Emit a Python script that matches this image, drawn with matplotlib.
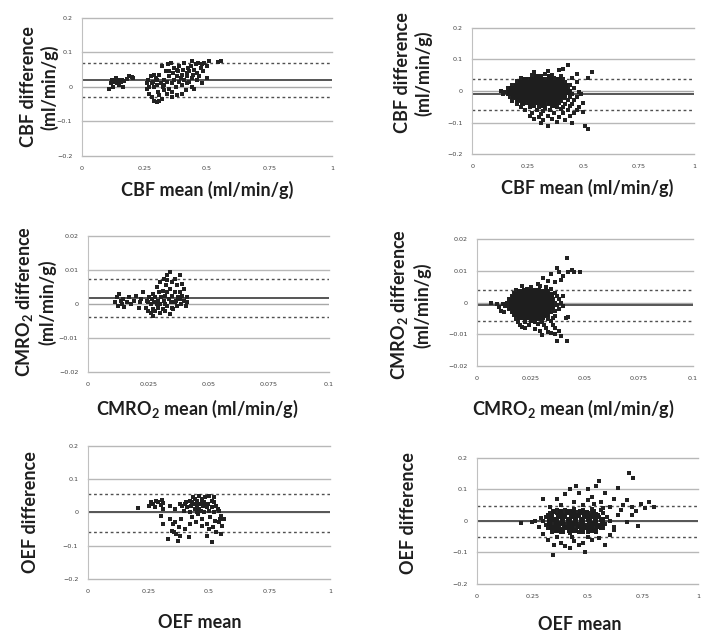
import numpy as np
import matplotlib
matplotlib.use('Agg')
import matplotlib.pyplot as plt

plt.rcParams['font.family'] = ['Lato', 'DejaVu Sans']
plt.rcParams['mathtext.fontset'] = 'custom'
plt.rcParams['mathtext.rm'] = 'Lato:bold'
plt.rcParams['mathtext.it'] = 'Lato:bold'
plt.rcParams['mathtext.bf'] = 'Lato:bold'

# ---- data ----
cbf_ticks = [0, 0.25, 0.5, 0.75, 1]
cbf_ticklabels = ['0', '0.25', '0.5', '0.75', '1']
diff_ticks = [-0.2, -0.1, 0, 0.1, 0.2]
diff_ticklabels = ['\u22120.2', '\u22120.1', '0', '0.1', '0.2']
cmro_ticks = [0, 0.025, 0.05, 0.075, 0.1]
cmro_ticklabels = ['0', '0.025', '0.05', '0.075', '0.1']
cmro_diff_ticks = [-0.02, -0.01, 0, 0.01, 0.02]
cmro_diff_ticklabels = ['\u22120.02', '\u22120.01', '0', '0.01', '0.02']

# mean, upper limit, lower limit
cbf_left_lines = [0.02, 0.07, -0.03]
cbf_right_lines = [-0.01, 0.037, -0.06]
cmro_left_lines = [0.0018, 0.0073, -0.0038]
cmro_right_lines = [-0.0007, 0.004, -0.0057]
oef_left_lines = [0.0, 0.055, -0.06]
oef_right_lines = [0.0, 0.047, -0.05]

cbf_left_pts = [
    (0.11, -0.005), (0.115, 0.01), (0.12, 0.02), (0.125, 0.0), (0.13, 0.015), (0.135, 0.025),
    (0.14, 0.01), (0.145, 0.02), (0.15, 0.005), (0.155, 0.015), (0.16, 0.02), (0.165, 0.0),
    (0.17, 0.018), (0.18, 0.022), (0.19, 0.03), (0.2, 0.028), (0.205, 0.025),
    (0.26, 0.01), (0.26, -0.005), (0.265, 0.02), (0.27, -0.02), (0.27, 0.0), (0.275, 0.03),
    (0.28, -0.03), (0.28, 0.01), (0.285, 0.015), (0.29, -0.04), (0.29, 0.0), (0.295, 0.025),
    (0.3, -0.045), (0.3, 0.005), (0.3, 0.02), (0.305, -0.015), (0.31, 0.035), (0.31, -0.025),
    (0.315, 0.01), (0.32, 0.06), (0.32, -0.035), (0.325, 0.0), (0.33, 0.02), (0.33, -0.01),
    (0.335, 0.045), (0.34, -0.02), (0.34, 0.015), (0.345, 0.065), (0.35, 0.03), (0.35, -0.005),
    (0.355, 0.07), (0.36, 0.01), (0.36, -0.015), (0.365, 0.04), (0.37, 0.02), (0.37, 0.055),
    (0.375, 0.0), (0.38, 0.03), (0.38, -0.025), (0.385, 0.045), (0.39, 0.015), (0.39, 0.06),
    (0.395, 0.025), (0.4, 0.035), (0.4, 0.005), (0.405, 0.05), (0.41, 0.02), (0.41, 0.07),
    (0.415, -0.01), (0.42, 0.04), (0.42, 0.03), (0.425, 0.055), (0.43, 0.015), (0.43, 0.045),
    (0.435, 0.06), (0.44, 0.025), (0.44, 0.075), (0.445, 0.035), (0.45, 0.05), (0.45, -0.005),
    (0.455, 0.065), (0.46, 0.04), (0.46, 0.02), (0.465, 0.07), (0.47, 0.03), (0.475, 0.055),
    (0.48, 0.01), (0.485, 0.045), (0.49, 0.07), (0.5, 0.06), (0.51, 0.075), (0.48, 0.065),
    (0.35, 0.045), (0.33, 0.005), (0.29, 0.035), (0.31, -0.04), (0.36, -0.03), (0.4, -0.02),
    (0.42, 0.01), (0.38, 0.05), (0.44, 0.0), (0.545, 0.072), (0.555, 0.075), (0.5, 0.025),
]

cbf_right_pts = [
    (0.27, 0.052), (0.31, 0.048), (0.36, 0.05), (0.40, 0.046), (0.33, 0.055),
    (0.22, 0.041), (0.26, 0.038), (0.29, 0.043), (0.33, 0.039), (0.37, 0.042), (0.41, 0.037), (0.45, 0.04),
    (0.20, 0.031), (0.23, 0.028), (0.25, 0.033), (0.28, 0.029), (0.30, 0.032), (0.32, 0.027),
    (0.34, 0.031), (0.36, 0.029), (0.38, 0.033), (0.42, 0.03), (0.47, 0.028),
    (0.18, 0.02), (0.21, 0.022), (0.24, 0.018), (0.26, 0.021), (0.28, 0.019), (0.30, 0.023),
    (0.31, 0.017), (0.33, 0.02), (0.35, 0.022), (0.37, 0.018), (0.39, 0.021), (0.41, 0.019), (0.44, 0.02),
    (0.16, 0.011), (0.19, 0.009), (0.21, 0.012), (0.23, 0.008), (0.25, 0.01), (0.27, 0.012),
    (0.29, 0.009), (0.30, 0.011), (0.32, 0.008), (0.34, 0.012), (0.36, 0.01), (0.38, 0.009),
    (0.40, 0.011), (0.43, 0.01), (0.46, 0.008),
    (0.13, 0.0), (0.15, -0.002), (0.17, 0.001), (0.19, -0.001), (0.21, 0.002), (0.23, 0.0),
    (0.25, -0.002), (0.26, 0.001), (0.28, 0.0), (0.30, -0.001), (0.31, 0.002), (0.33, 0.0),
    (0.35, -0.002), (0.37, 0.001), (0.39, 0.0), (0.41, -0.001), (0.44, 0.001), (0.48, -0.002),
    (0.14, -0.009), (0.16, -0.011), (0.18, -0.01), (0.20, -0.012), (0.22, -0.008), (0.24, -0.01),
    (0.26, -0.011), (0.27, -0.009), (0.29, -0.012), (0.30, -0.01), (0.32, -0.008), (0.34, -0.011),
    (0.36, -0.01), (0.38, -0.012), (0.40, -0.009), (0.42, -0.011), (0.45, -0.01), (0.49, -0.008),
    (0.17, -0.02), (0.19, -0.022), (0.21, -0.019), (0.23, -0.021), (0.25, -0.018), (0.27, -0.02),
    (0.28, -0.023), (0.30, -0.019), (0.32, -0.021), (0.33, -0.018), (0.35, -0.02), (0.37, -0.022),
    (0.39, -0.019), (0.42, -0.021), (0.44, -0.02), (0.47, -0.018),
    (0.18, -0.031), (0.20, -0.029), (0.22, -0.032), (0.24, -0.03), (0.26, -0.028), (0.28, -0.031),
    (0.30, -0.033), (0.31, -0.029), (0.33, -0.03), (0.35, -0.032), (0.37, -0.028), (0.40, -0.031),
    (0.43, -0.03), (0.46, -0.029),
    (0.20, -0.04), (0.23, -0.042), (0.25, -0.039), (0.27, -0.041), (0.29, -0.038), (0.31, -0.042),
    (0.34, -0.04), (0.36, -0.043), (0.39, -0.039), (0.42, -0.041), (0.45, -0.04), (0.50, -0.038),
    (0.22, -0.05), (0.26, -0.052), (0.28, -0.048), (0.30, -0.051), (0.33, -0.053), (0.36, -0.049),
    (0.38, -0.052), (0.41, -0.05), (0.44, -0.048), (0.48, -0.051),
    (0.24, -0.061), (0.29, -0.059), (0.32, -0.062), (0.35, -0.06), (0.40, -0.058), (0.43, -0.061), (0.47, -0.06),
    (0.27, -0.07), (0.31, -0.072), (0.37, -0.069), (0.41, -0.071), (0.46, -0.07), (0.50, -0.068),
    (0.26, -0.08), (0.30, -0.082), (0.34, -0.079), (0.39, -0.081), (0.44, -0.08),
    (0.28, -0.09), (0.32, -0.092), (0.36, -0.089), (0.42, -0.091),
    (0.31, -0.1), (0.38, -0.099), (0.45, -0.101), (0.34, -0.11), (0.51, -0.112), (0.52, -0.122),
    (0.43, 0.082), (0.54, 0.06), (0.41, 0.07), (0.39, 0.066), (0.28, 0.06), (0.34, 0.062),
    (0.47, 0.055), (0.52, 0.042),
]

# dense middle of the right CBF cloud
cbf_right_core = [
    (0.29, 0.045), (0.35, 0.044),
    (0.24, 0.035), (0.27, 0.036), (0.31, 0.034), (0.35, 0.035), (0.39, 0.036),
    (0.22, 0.025), (0.25, 0.024), (0.27, 0.026), (0.29, 0.025), (0.33, 0.024), (0.35, 0.026),
    (0.37, 0.025), (0.40, 0.024),
    (0.20, 0.015), (0.22, 0.014), (0.24, 0.016), (0.26, 0.015), (0.28, 0.014), (0.30, 0.016),
    (0.32, 0.015), (0.34, 0.014), (0.36, 0.016), (0.38, 0.015), (0.40, 0.014), (0.42, 0.016),
    (0.18, 0.005), (0.20, 0.004), (0.22, 0.006), (0.24, 0.005), (0.26, 0.004), (0.28, 0.006),
    (0.30, 0.005), (0.32, 0.004), (0.34, 0.006), (0.36, 0.005), (0.38, 0.004), (0.40, 0.006), (0.42, 0.005),
    (0.17, -0.005), (0.19, -0.004), (0.21, -0.006), (0.23, -0.005), (0.25, -0.004), (0.27, -0.006),
    (0.29, -0.005), (0.31, -0.004), (0.33, -0.006), (0.35, -0.005), (0.37, -0.004), (0.39, -0.006),
    (0.41, -0.005), (0.43, -0.004),
    (0.19, -0.015), (0.21, -0.014), (0.23, -0.016), (0.25, -0.015), (0.27, -0.014), (0.29, -0.016),
    (0.31, -0.015), (0.33, -0.014), (0.35, -0.016), (0.37, -0.015), (0.39, -0.014), (0.41, -0.016),
    (0.21, -0.025), (0.23, -0.024), (0.25, -0.026), (0.27, -0.025), (0.29, -0.024), (0.31, -0.026),
    (0.33, -0.025), (0.35, -0.024), (0.37, -0.026), (0.39, -0.025),
    (0.23, -0.035), (0.26, -0.036), (0.29, -0.034), (0.32, -0.035), (0.35, -0.036), (0.38, -0.034),
    (0.27, -0.045), (0.32, -0.046), (0.37, -0.044),
]

cmro_left_pts = [
    (0.011, 0.0005), (0.012, 0.002), (0.0125, -0.0005), (0.013, 0.003), (0.0135, 0.001),
    (0.014, 0.0), (0.0145, 0.0015), (0.015, -0.0008), (0.016, 0.0005), (0.017, 0.002),
    (0.018, 0.0), (0.019, 0.001), (0.02, 0.0025), (0.021, -0.001), (0.0215, 0.0005),
    (0.022, 0.0015), (0.023, 0.0035),
    (0.024, -0.001), (0.0245, 0.001), (0.025, -0.002), (0.025, 0.0005), (0.0255, 0.002),
    (0.026, -0.0025), (0.026, 0.0), (0.0265, 0.0015), (0.027, -0.0015), (0.027, 0.003),
    (0.0275, 0.0005), (0.028, -0.002), (0.028, 0.002), (0.0285, 0.005), (0.029, -0.001),
    (0.029, 0.001), (0.0295, 0.0035), (0.03, -0.0025), (0.03, 0.0), (0.03, 0.0065),
    (0.0305, 0.002), (0.031, -0.0015), (0.031, 0.004), (0.0315, 0.0075), (0.0315, 0.001),
    (0.032, -0.002), (0.032, 0.0025), (0.0325, 0.0055), (0.033, -0.0005), (0.033, 0.0035),
    (0.033, 0.0085), (0.0335, 0.0015), (0.034, -0.003), (0.034, 0.0045), (0.034, 0.0095),
    (0.0345, 0.0005), (0.035, 0.0025), (0.035, 0.0065), (0.0355, -0.0015), (0.036, 0.0035),
    (0.036, 0.0075), (0.0365, 0.001), (0.037, 0.0055), (0.037, -0.0005), (0.0375, 0.002),
    (0.038, 0.0085), (0.038, 0.0035), (0.0385, 0.0), (0.039, 0.006), (0.039, 0.0025),
    (0.04, 0.001), (0.04, 0.0045), (0.0405, -0.0005), (0.041, 0.002), (0.041, 0.0005),
    (0.036, 0.0005), (0.032, 0.0), (0.0285, 0.0), (0.027, -0.0035), (0.035, -0.001),
    (0.038, 0.0015), (0.033, 0.007),
]

cmro_right_pts = [
    (0.021, 0.0052), (0.025, 0.0049), (0.029, 0.0053), (0.032, 0.0048),
    (0.018, 0.0041), (0.020, 0.0038), (0.023, 0.0042), (0.026, 0.0039), (0.028, 0.0041),
    (0.031, 0.0037), (0.034, 0.0042),
    (0.017, 0.0031), (0.019, 0.0028), (0.021, 0.0032), (0.023, 0.0029), (0.025, 0.0031),
    (0.027, 0.0028), (0.029, 0.0032), (0.031, 0.003), (0.033, 0.0029), (0.036, 0.0031),
    (0.016, 0.002), (0.018, 0.0022), (0.020, 0.0019), (0.022, 0.0021), (0.024, 0.0018),
    (0.026, 0.0021), (0.028, 0.0019), (0.030, 0.0022), (0.032, 0.002), (0.034, 0.0018), (0.037, 0.0021),
    (0.015, 0.0011), (0.017, 0.0009), (0.019, 0.0012), (0.021, 0.001), (0.023, 0.0008),
    (0.025, 0.0011), (0.027, 0.0009), (0.029, 0.0012), (0.031, 0.001), (0.033, 0.0009),
    (0.035, 0.0011), (0.038, 0.001),
    (0.014, 0.0), (0.016, -0.0002), (0.018, 0.0001), (0.020, -0.0001), (0.022, 0.0002),
    (0.024, 0.0), (0.026, -0.0002), (0.028, 0.0001), (0.030, 0.0), (0.032, -0.0001),
    (0.034, 0.0002), (0.036, 0.0), (0.039, -0.0001),
    (0.013, -0.001), (0.015, -0.0012), (0.017, -0.0009), (0.019, -0.0011), (0.021, -0.001),
    (0.023, -0.0008), (0.025, -0.0011), (0.027, -0.001), (0.029, -0.0012), (0.031, -0.0009),
    (0.033, -0.0011), (0.035, -0.001), (0.037, -0.0009), (0.040, -0.0011),
    (0.015, -0.002), (0.017, -0.0022), (0.019, -0.0019), (0.021, -0.0021), (0.023, -0.002),
    (0.025, -0.0018), (0.027, -0.0021), (0.029, -0.002), (0.031, -0.0022), (0.033, -0.0019),
    (0.035, -0.0021), (0.038, -0.002),
    (0.016, -0.0031), (0.018, -0.0029), (0.020, -0.0032), (0.022, -0.003), (0.024, -0.0028),
    (0.026, -0.0031), (0.028, -0.003), (0.030, -0.0029), (0.032, -0.0032), (0.034, -0.003), (0.036, -0.0028),
    (0.017, -0.004), (0.019, -0.0042), (0.021, -0.0039), (0.023, -0.0041), (0.025, -0.0038),
    (0.027, -0.0041), (0.029, -0.004), (0.031, -0.0042), (0.033, -0.0039), (0.036, -0.0041),
    (0.018, -0.0051), (0.020, -0.0049), (0.022, -0.0052), (0.024, -0.005), (0.026, -0.0048),
    (0.028, -0.0051), (0.030, -0.005), (0.033, -0.0052), (0.035, -0.0049),
    (0.019, -0.006), (0.022, -0.0062), (0.025, -0.0059), (0.027, -0.0061), (0.030, -0.006), (0.034, -0.0058),
    (0.020, -0.007), (0.024, -0.0072), (0.028, -0.0069), (0.031, -0.0071), (0.035, -0.007),
    (0.022, -0.008), (0.027, -0.0082), (0.032, -0.0079), (0.036, -0.0081),
    (0.029, -0.009), (0.033, -0.0092), (0.038, -0.0089),
    (0.030, -0.0102), (0.037, -0.012), (0.0417, -0.0122), (0.034, -0.0096), (0.036, -0.0098),
    (0.021, -0.0077), (0.039, -0.0105),
    (0.0417, 0.014), (0.037, 0.011), (0.044, 0.0102), (0.038, 0.0095), (0.0306, 0.0077),
    (0.034, 0.009), (0.0475, 0.0095), (0.04, 0.0085), (0.042, 0.0095), (0.036, 0.0065),
    (0.033, 0.0068), (0.039, 0.007), (0.028, 0.006), (0.045, 0.0098),
    (0.0062, 0.0), (0.009, -0.0003), (0.01, -0.0015), (0.011, -0.0025), (0.012, -0.0005),
    (0.0125, -0.003), (0.041, -0.005), (0.042, -0.0045), (0.04, 0.002),
]

# dense middle of the right CMRO2 cloud
cmro_right_core = [
    (0.020, 0.0035), (0.022, 0.0036), (0.024, 0.0034), (0.026, 0.0035), (0.028, 0.0036),
    (0.030, 0.0034), (0.032, 0.0035),
    (0.018, 0.0025), (0.020, 0.0026), (0.022, 0.0024), (0.024, 0.0025), (0.026, 0.0026),
    (0.028, 0.0024), (0.030, 0.0025), (0.032, 0.0026), (0.034, 0.0024),
    (0.017, 0.0015), (0.019, 0.0016), (0.021, 0.0014), (0.023, 0.0015), (0.025, 0.0016),
    (0.027, 0.0014), (0.029, 0.0015), (0.031, 0.0016), (0.033, 0.0014),
    (0.016, 0.0005), (0.018, 0.0006), (0.020, 0.0004), (0.022, 0.0005), (0.024, 0.0006),
    (0.026, 0.0004), (0.028, 0.0005), (0.030, 0.0006), (0.032, 0.0004), (0.034, 0.0005),
    (0.017, -0.0005), (0.019, -0.0004), (0.021, -0.0006), (0.023, -0.0005), (0.025, -0.0004),
    (0.027, -0.0006), (0.029, -0.0005), (0.031, -0.0004), (0.033, -0.0006),
    (0.016, -0.0015), (0.018, -0.0014), (0.020, -0.0016), (0.022, -0.0015), (0.024, -0.0014),
    (0.026, -0.0016), (0.028, -0.0015), (0.030, -0.0014), (0.032, -0.0016), (0.034, -0.0015),
    (0.017, -0.0025), (0.019, -0.0024), (0.021, -0.0026), (0.023, -0.0025), (0.025, -0.0024),
    (0.027, -0.0026), (0.029, -0.0025), (0.031, -0.0024), (0.033, -0.0026),
    (0.018, -0.0035), (0.020, -0.0036), (0.022, -0.0034), (0.024, -0.0035), (0.026, -0.0036),
    (0.028, -0.0034), (0.030, -0.0035), (0.032, -0.0036),
    (0.020, -0.0045), (0.022, -0.0046), (0.024, -0.0044), (0.026, -0.0045), (0.028, -0.0046),
    (0.030, -0.0044),
]

oef_left_pts = [
    (0.207, 0.013), (0.25, 0.02), (0.26, 0.032), (0.27, 0.025), (0.275, 0.015), (0.28, 0.035),
    (0.29, 0.03), (0.3, 0.022), (0.305, 0.038), (0.31, 0.01), (0.31, 0.028), (0.3, -0.01),
    (0.31, -0.035), (0.33, -0.08), (0.34, 0.02), (0.345, -0.055), (0.35, -0.035), (0.355, -0.06),
    (0.36, -0.03), (0.365, -0.065), (0.37, -0.085), (0.375, -0.045), (0.38, 0.025), (0.385, -0.02),
    (0.39, 0.02), (0.395, 0.005), (0.4, -0.05), (0.405, 0.03), (0.41, 0.015), (0.415, -0.075),
    (0.42, 0.035), (0.42, 0.0), (0.425, 0.02), (0.43, -0.015), (0.435, 0.045), (0.44, 0.025),
    (0.44, 0.01), (0.445, -0.03), (0.45, 0.035), (0.45, 0.015), (0.455, -0.005), (0.46, 0.05),
    (0.46, 0.025), (0.465, 0.005), (0.47, 0.04), (0.47, -0.02), (0.475, 0.02), (0.48, 0.03),
    (0.48, 0.0), (0.485, 0.045), (0.49, 0.015), (0.49, -0.035), (0.495, 0.025), (0.5, 0.05),
    (0.5, 0.005), (0.505, -0.015), (0.51, 0.035), (0.51, 0.015), (0.515, -0.045), (0.52, 0.045),
    (0.52, 0.0), (0.525, -0.025), (0.53, 0.02), (0.53, -0.06), (0.535, 0.01), (0.54, -0.03),
    (0.545, -0.02), (0.55, -0.065), (0.555, -0.04), (0.51, -0.088), (0.49, -0.07), (0.5, -0.05),
    (0.47, -0.04), (0.43, 0.03), (0.44, 0.04), (0.46, 0.01), (0.47, 0.03), (0.48, 0.018),
    (0.45, 0.0), (0.42, -0.035), (0.38, -0.07), (0.34, -0.02), (0.36, 0.01), (0.4, 0.025),
    (0.55, -0.01), (0.56, -0.02), (0.54, 0.005), (0.52, 0.03),
]

oef_right_pts = [
    (0.36, 0.036), (0.40, 0.034), (0.44, 0.038), (0.48, 0.035), (0.52, 0.037), (0.56, 0.033),
    (0.33, 0.024), (0.36, 0.026), (0.39, 0.023), (0.42, 0.025), (0.45, 0.027), (0.48, 0.024),
    (0.51, 0.026), (0.54, 0.023), (0.57, 0.025),
    (0.31, 0.012), (0.34, 0.014), (0.37, 0.011), (0.40, 0.013), (0.43, 0.012), (0.46, 0.014),
    (0.49, 0.011), (0.52, 0.013), (0.55, 0.012), (0.59, 0.011),
    (0.30, 0.0), (0.33, 0.002), (0.36, -0.001), (0.39, 0.001), (0.42, 0.0), (0.45, 0.002),
    (0.48, -0.001), (0.51, 0.001), (0.54, 0.0), (0.57, -0.002), (0.60, 0.001),
    (0.31, -0.012), (0.34, -0.010), (0.37, -0.013), (0.40, -0.011), (0.43, -0.012), (0.46, -0.010),
    (0.49, -0.013), (0.52, -0.011), (0.55, -0.012), (0.58, -0.01),
    (0.32, -0.024), (0.36, -0.022), (0.39, -0.025), (0.42, -0.023), (0.45, -0.024), (0.48, -0.022),
    (0.51, -0.025), (0.54, -0.023), (0.57, -0.024),
    (0.34, -0.036), (0.38, -0.034), (0.42, -0.037), (0.46, -0.035), (0.50, -0.036), (0.54, -0.034),
    (0.36, 0.07), (0.40, 0.085), (0.42, 0.1), (0.44, 0.06), (0.46, 0.09), (0.48, 0.05),
    (0.50, 0.1), (0.52, 0.075), (0.54, 0.11), (0.56, 0.06), (0.58, 0.09), (0.60, 0.045),
    (0.62, 0.07), (0.64, 0.105), (0.66, 0.05), (0.68, 0.065), (0.70, 0.045), (0.72, 0.03),
    (0.74, 0.055), (0.76, 0.04), (0.78, 0.06), (0.80, 0.045), (0.55, 0.125), (0.69, 0.152),
    (0.705, 0.136), (0.38, 0.05), (0.45, 0.11), (0.50, 0.065), (0.53, 0.055), (0.57, 0.042),
    (0.65, 0.035), (0.70, 0.02), (0.73, -0.015), (0.68, -0.005), (0.64, 0.02), (0.62, -0.02),
    (0.30, 0.07), (0.33, 0.045),
    (0.30, -0.04), (0.32, -0.06), (0.35, -0.075), (0.38, -0.07), (0.40, -0.08), (0.42, -0.085),
    (0.44, -0.065), (0.46, -0.075), (0.48, -0.07), (0.50, -0.05), (0.52, -0.06), (0.55, -0.055),
    (0.58, -0.075), (0.60, -0.045), (0.345, -0.108), (0.49, -0.1), (0.28, -0.02), (0.26, 0.0),
    (0.20, -0.006), (0.25, -0.003), (0.29, 0.01), (0.36, -0.05), (0.43, -0.05), (0.62, -0.03),
]

# dense middle of the right OEF cloud
oef_right_core = [
    (0.38, 0.018), (0.41, 0.006), (0.44, -0.006), (0.47, -0.018), (0.50, 0.006), (0.53, -0.006),
    (0.35, 0.006), (0.38, -0.006), (0.41, -0.018), (0.44, 0.018), (0.47, 0.006), (0.50, -0.018),
    (0.53, 0.018), (0.56, 0.006), (0.35, -0.018), (0.41, 0.030), (0.47, 0.030), (0.44, -0.030),
    (0.38, -0.028), (0.50, 0.018), (0.56, -0.018), (0.32, 0.018), (0.47, -0.030), (0.53, -0.03),
    (0.345, 0.03), (0.375, 0.031), (0.405, 0.029), (0.435, 0.03), (0.465, 0.031), (0.495, 0.029), (0.525, 0.03),
    (0.335, 0.018), (0.365, 0.019), (0.395, 0.017), (0.425, 0.018), (0.455, 0.019), (0.485, 0.017),
    (0.515, 0.018), (0.545, 0.019),
    (0.325, 0.006), (0.355, 0.007), (0.385, 0.005), (0.415, 0.006), (0.445, 0.007), (0.475, 0.005),
    (0.505, 0.006), (0.535, 0.007), (0.565, 0.005),
    (0.325, -0.006), (0.355, -0.005), (0.385, -0.007), (0.415, -0.006), (0.445, -0.005),
    (0.475, -0.007), (0.505, -0.006), (0.535, -0.005), (0.565, -0.007),
    (0.335, -0.018), (0.365, -0.017), (0.395, -0.019), (0.425, -0.018), (0.455, -0.017),
    (0.485, -0.019), (0.515, -0.018), (0.545, -0.017),
    (0.355, -0.03), (0.385, -0.031), (0.415, -0.029), (0.445, -0.03), (0.475, -0.031),
    (0.505, -0.029), (0.535, -0.03),
]


def panel(ax, pts, lines, xmax, ymax, xticks, xticklabels, yticks, yticklabels, ms,
          core=None, core_ms=3.0):
    mean, up, lo = lines
    for g in [-ymax, -ymax / 2, ymax / 2, ymax]:
        ax.axhline(g, color='#b8b8b8', lw=1.0, zorder=1, clip_on=False)
    ax.axhline(0, color='#a8a8a8', lw=1.0, zorder=1)
    ax.axhline(mean, color='#555555', lw=1.4, zorder=2)
    ax.axhline(up, color='#505050', lw=1.0, ls=(0, (2, 2)), zorder=2)
    ax.axhline(lo, color='#505050', lw=1.0, ls=(0, (2, 2)), zorder=2)
    xs = [p[0] for p in pts]
    ys = [p[1] for p in pts]
    ax.plot(xs, ys, 's', color='#222222', ms=ms, mew=0, zorder=3)
    if core is not None:
        ax.plot([p[0] for p in core], [p[1] for p in core], 's', color='#1e1e1e',
                ms=core_ms, mew=0, zorder=3)
    ax.set_xlim(0, xmax)
    ax.set_ylim(-ymax, ymax)
    ax.set_xticks(xticks)
    ax.set_xticklabels(xticklabels, family='DejaVu Sans')
    ax.set_yticks(yticks)
    ax.set_yticklabels(yticklabels, family='DejaVu Sans')
    ax.tick_params(length=0, labelsize=4.6, labelcolor='#444444', pad=7)
    for s in ['top', 'right', 'bottom']:
        ax.spines[s].set_visible(False)
    ax.spines['left'].set_color('#c0c0c0')


fig = plt.figure(figsize=(7.1, 6.34), dpi=100)

ax1 = fig.add_axes([0.1155, 0.754, 0.352, 0.218])
panel(ax1, cbf_left_pts, cbf_left_lines, 1, 0.2, cbf_ticks, cbf_ticklabels,
      diff_ticks, diff_ticklabels, 2.3)
ax2 = fig.add_axes([0.665, 0.757, 0.313, 0.199])
panel(ax2, cbf_right_pts, cbf_right_lines, 1, 0.2, cbf_ticks, cbf_ticklabels,
      diff_ticks, diff_ticklabels, 2.4, core=cbf_right_core, core_ms=4.2)
ax3 = fig.add_axes([0.124, 0.413, 0.339, 0.2145])
panel(ax3, cmro_left_pts, cmro_left_lines, 0.1, 0.02, cmro_ticks, cmro_ticklabels,
      cmro_diff_ticks, cmro_diff_ticklabels, 2.3)
ax4 = fig.add_axes([0.672, 0.4227, 0.304, 0.2])
panel(ax4, cmro_right_pts, cmro_right_lines, 0.1, 0.02, cmro_ticks,
      cmro_ticklabels, cmro_diff_ticks, cmro_diff_ticklabels, 2.4,
      core=cmro_right_core, core_ms=4.2)
ax5 = fig.add_axes([0.124, 0.0868, 0.341, 0.21])
panel(ax5, oef_left_pts, oef_left_lines, 1, 0.2, cbf_ticks, cbf_ticklabels,
      diff_ticks, diff_ticklabels, 2.3)
ax6 = fig.add_axes([0.672, 0.0789, 0.311, 0.199])
panel(ax6, oef_right_pts, oef_right_lines, 1, 0.2, cbf_ticks, cbf_ticklabels,
      diff_ticks, diff_ticklabels, 2.2, core=oef_right_core, core_ms=3.6)


def ftext(x, y, s, rot=0):
    fig.text(x / 710, 1 - y / 634, s, rotation=rot, ha='center', va='center',
             fontsize=13, fontweight='bold', color='#1e1e1e', linespacing=1.2)


ftext(39, 87, 'CBF difference\n(ml/min/g)', 90)
ftext(413, 73, 'CBF difference\n(ml/min/g)', 90)
ftext(35, 302, 'CMRO$_2$ difference\n(ml/min/g)', 90)
ftext(410, 305, 'CMRO$_2$ difference\n(ml/min/g)', 90)
ftext(30, 512, 'OEF difference', 90)
ftext(408, 513, 'OEF difference', 90)

ftext(207, 190, 'CBF mean (ml/min/g)')
ftext(587, 188, 'CBF mean (ml/min/g)')
ftext(197, 409, 'CMRO$_2$ mean (ml/min/g)')
ftext(573, 409, 'CMRO$_2$ mean (ml/min/g)')
ftext(200, 623, 'OEF mean')
ftext(580, 624, 'OEF mean')

fig.savefig('out.png', dpi=100, facecolor='white')
